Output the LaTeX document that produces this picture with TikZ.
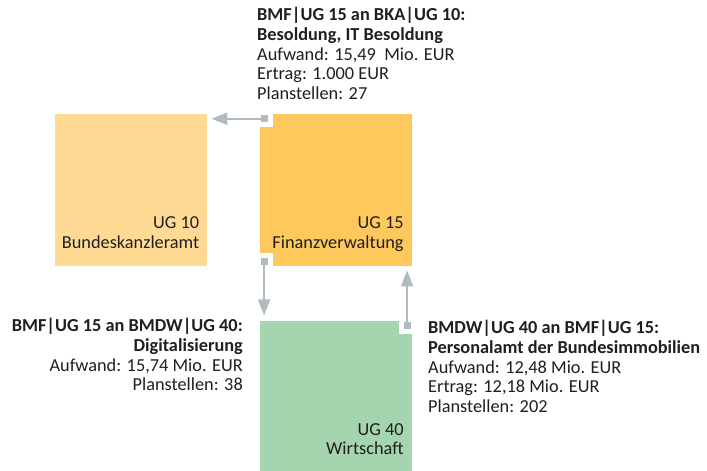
\documentclass[tikz,border=0pt]{standalone}
\usepackage{fontspec}
\setmainfont{Carlito}
\usetikzlibrary{positioning,
arrows.meta % for the triangle tips
}
\definecolor{ugtan}{HTML}{FFDA95}
\definecolor{ugorange}{HTML}{FFC85C}
\definecolor{uggreen}{HTML}{A5D5AE}
\definecolor{linegray}{HTML}{B0BBC1}
\definecolor{ink}{HTML}{1F1F1F}
\tikzset{%
  box/.style={minimum width=152pt, minimum height=152pt, inner sep=0pt}, % the three budget boxes
  notch/.style={fill=white, minimum size=13pt, inner sep=0pt},
  stub/.style={fill=linegray, minimum size=7pt, inner sep=0pt},
  conn/.style={draw=linegray, line width=2pt, -{Triangle[length=16pt,width=12pt]}, shorten >=4pt},
  info/.style={font=\fontsize{18.3}{19.6}\selectfont, text=ink, inner sep=0pt},
  ug/.style={font=\fontsize{18.3}{19.6}\selectfont, text=ink, inner sep=0pt, align=right, anchor=south east, xshift=-8pt, yshift=12pt}
}

\begin{document}
\begin{tikzpicture}[x=1pt, y=-1pt]
\useasboundingbox (0,0) rectangle (707,471);

\node[box, fill=ugtan, anchor=north west] (b10) at (55,114) {};
\node[box, fill=ugorange, right=52pt of b10] (b15) {};
\node[box, fill=uggreen, below=54pt of b15] (b40) {};

\node[ug] (u0) at (b10.south east) {UG 10\\Bundeskanzleramt\strut};
\node[ug] (u1) at (b15.south east) {UG 15\\Finanzverwaltung\strut};
\node[ug] (u2) at (b40.south east) {UG 40\\Wirtschaft\strut};

% white corners where the connectors start
\node[notch, anchor=north west] (n0) at (b15.north west) {};
\node[notch, anchor=south west] (n1) at (b15.south west) {};
\node[notch, anchor=north east] (n2) at (b40.north east) {};

\node[stub, anchor=north west, xshift=1pt, yshift=-1pt] (s0) at (b15.north west) {};
\node[stub, anchor=south west, xshift=1pt, yshift=1pt] (s1) at (b15.south west) {};
\node[stub, anchor=north east, xshift=-1pt, yshift=-1pt] (s2) at (b40.north east) {};

\draw[conn] (s0.center) -- (s0 -| b10.east);
\draw[conn, shorten >=5pt] (s1.center) -- (s1 |- b40.north);
\draw[conn] (s2.center) -- (s2 |- b15.south);
\node[stub] at (s0) {};
\node[stub] at (s1) {};
\node[stub] at (s2) {};

\node[info, anchor=north west, align=left] (l0) at (257,7) {\strut\textbf{BMF|UG 15 an BKA|UG 10:}\\\textbf{Besoldung, IT Besoldung}\\Aufwand: 15,49~~Mio. EUR\\Ertrag: 1.000 EUR\\Planstellen: 27};
\node[info, anchor=north east, align=right] (l1) at (243,318) {\strut\textbf{BMF|UG 15 an BMDW|UG 40:}\\\textbf{Digitalisierung}\\Aufwand: 15,74 Mio. EUR\\Planstellen: 38};
\node[info, anchor=north west, align=left] (l2) at (428,320) {\strut\textbf{BMDW|UG 40 an BMF|UG 15:}\\\textbf{Personalamt der Bundesimmobilien}\\Aufwand: 12,48 Mio. EUR\\Ertrag: 12,18 Mio. EUR\\Planstellen: 202};

\end{tikzpicture}
\end{document}
